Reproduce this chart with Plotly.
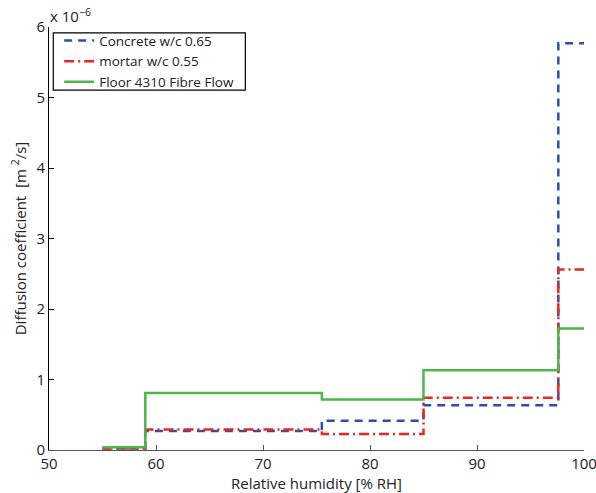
import plotly.graph_objects as go

# Relative humidity step edges [% RH]
rh_edges = [55, 59, 75.5, 85, 97.6, 100]
# Diffusion coefficient levels [x 1e-6 m^2/s] for each interval (last repeated for step end)
concrete = [0.02, 0.27, 0.415, 0.634, 5.77, 5.77]
mortar = [0.02, 0.29, 0.227, 0.742, 2.56, 2.56]
floor = [0.04, 0.81, 0.715, 1.13, 1.725, 1.725]

names = ["Concrete w/c 0.65", "mortar w/c 0.55", "Floor 4310 Fibre Flow"]
x_ticks = [50, 60, 70, 80, 90, 100]
y_ticks = [0, 1, 2, 3, 4, 5, 6]

FONT = "Open Sans"

fig = go.Figure()
fig.add_trace(go.Scatter(x=rh_edges, y=concrete, mode="lines", name=names[0],
                         line=dict(shape="hv", color="#2f4fa6", width=2.5, dash="8px,6px")))
fig.add_trace(go.Scatter(x=rh_edges, y=mortar, mode="lines", name=names[1],
                         line=dict(shape="hv", color="#ee2424", width=2.5, dash="10px,4px,2px,4px")))
fig.add_trace(go.Scatter(x=rh_edges, y=floor, mode="lines", name=names[2],
                         line=dict(shape="hv", color="#4cb847", width=2.5)))

fig.update_layout(
    width=596, height=493,
    paper_bgcolor="white", plot_bgcolor="white",
    margin=dict(l=49, r=12, t=27, b=43, autoexpand=False),
    font=dict(family=FONT, size=15, color="#222"),
    showlegend=True,
    legend=dict(x=0.019, y=1.004, xanchor="left", yanchor="top",
                borderwidth=0, bgcolor="rgba(0,0,0,0)",
                font=dict(family=FONT, size=13.5, color="#222"),
                tracegroupgap=0, itemwidth=30),
    xaxis=dict(range=[50, 100], tickvals=x_ticks, ticks="inside", ticklen=5,
               showline=True, linecolor="#555", linewidth=1, mirror=False,
               showgrid=False, zeroline=False, tickcolor="#555", automargin=False,
               ticklabeloverflow="allow",
               title=dict(text="Relative humidity [% RH]", standoff=1,
                          font=dict(family=FONT, size=15))),
    yaxis=dict(range=[0, 6], tickvals=y_ticks, ticks="inside", ticklen=5,
               showline=True, linecolor="black", linewidth=1, mirror=False,
               showgrid=False, zeroline=False, tickcolor="black", automargin=False,
               ticklabeloverflow="allow",
               title=dict(text="Diffusion coefficient  [m <sup>2</sup>/s]", standoff=6,
                          font=dict(family=FONT, size=15))),
    shapes=[dict(type="rect", xref="paper", yref="paper",
                 x0=0.008, x1=0.367, y0=0.851, y1=0.986,
                 line=dict(color="black", width=1.2), fillcolor="rgba(0,0,0,0)")],
    annotations=[dict(text="x 10<sup>−6</sup>", x=0, y=1, xref="paper", yref="paper",
                      xanchor="left", yanchor="bottom", showarrow=False,
                      font=dict(family=FONT, size=15, color="#222"), xshift=-1, yshift=-1)],
)

fig.write_html("out.html", config={"displayModeBar": False},
               post_script="document.body.style.margin='0';document.body.style.padding='0';")
